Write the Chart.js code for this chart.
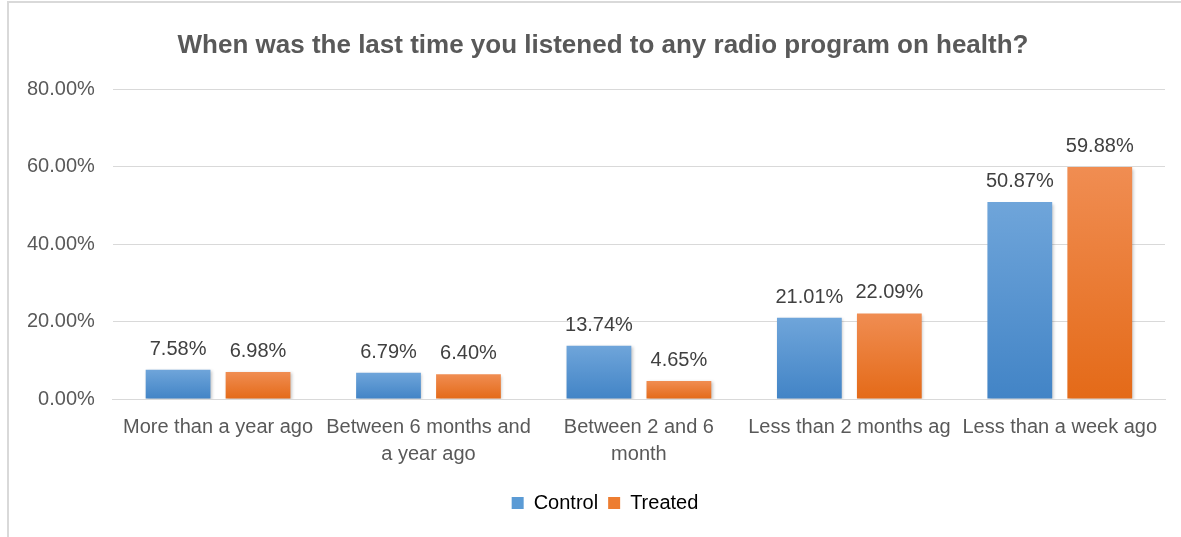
<!DOCTYPE html>
<html>
<head>
<meta charset="utf-8">
<title>Radio program on health</title>
<script src="https://cdn.jsdelivr.net/npm/chart.js@4/dist/chart.umd.min.js"></script>
<style>
  html, body { margin: 0; padding: 0; background: #fff; }
  #wrap {
    position: absolute; left: 7px; top: 1px; width: 1174px; height: 536px;
    border-left: 2px solid #d9d9d9; border-top: 2px solid #d9d9d9;
    box-sizing: border-box;
  }
  canvas { display: block; }
</style>
</head>
<body>
<div id="wrap"><canvas id="radioChart"></canvas></div>
<script>
const categories = [
  "More than a year ago",
  ["Between 6 months and", "a year ago"],
  ["Between 2 and 6", "month"],
  "Less than 2 months ag",
  "Less than a week ago"
];
const controlValues = [7.58, 6.79, 13.74, 21.01, 50.87];
const treatedValues = [6.98, 6.40, 4.65, 22.09, 59.88];
const seriesNames = ["Control", "Treated"];
const yTicks = [0, 20, 40, 60, 80];

const FONT = "'Liberation Sans', Arial, sans-serif";
const textGrey = "#595959";

// light-to-dark vertical fill for each bar, like the office theme
function barFill(top, bottom) {
  return (c) => {
    if (c.type !== "data") return bottom;
    const y = c.chart.scales.y;
    if (!y) return bottom;
    const yTop = y.getPixelForValue(c.parsed.y);
    const yBase = y.getPixelForValue(0);
    if (!isFinite(yTop) || !isFinite(yBase) || yTop === yBase) return bottom;
    const g = c.chart.ctx.createLinearGradient(0, yTop, 0, yBase);
    g.addColorStop(0, top);
    g.addColorStop(1, bottom);
    return g;
  };
}

// centre title and legend on the whole canvas rather than the padded box
const blockShift = {
  id: "blockShift",
  afterLayout(chart) {
    const t = chart.titleBlock;
    if (t) { t.left += 16; t.right += 16; }
    const l = chart.legend;
    if (l) { l.left += 18; l.right += 18; }
  }
};

const barShadow = {
  id: "barShadow",
  beforeDatasetsDraw(chart) {
    const ctx = chart.ctx;
    ctx.save();
    ctx.shadowColor = "rgba(0,0,0,0.22)";
    ctx.shadowBlur = 3;
    ctx.shadowOffsetX = 1.5;
    ctx.shadowOffsetY = 1.5;
  },
  afterDatasetsDraw(chart) {
    chart.ctx.restore();
  }
};

const valueLabels = {
  id: "valueLabels",
  afterDraw(chart) {
    const ctx = chart.ctx;
    ctx.save();
    ctx.font = "20px " + FONT;
    ctx.fillStyle = "#404040";
    ctx.textAlign = "center";
    ctx.textBaseline = "alphabetic";
    chart.data.datasets.forEach((ds, i) => {
      chart.getDatasetMeta(i).data.forEach((bar, j) => {
        ctx.fillText(ds.data[j].toFixed(2) + "%", bar.x, bar.y - 15);
      });
    });
    ctx.restore();
  }
};

new Chart(document.getElementById("radioChart"), {
  type: "bar",
  data: {
    labels: categories,
    datasets: [
      {
        label: seriesNames[0],
        data: controlValues,
        backgroundColor: barFill("#6fa5da", "#4284c6"),
        barPercentage: 0.81,
        categoryPercentage: 0.76
      },
      {
        label: seriesNames[1],
        data: treatedValues,
        backgroundColor: barFill("#f08d52", "#e46a18"),
        barPercentage: 0.81,
        categoryPercentage: 0.76
      }
    ]
  },
  options: {
    responsive: true,
    maintainAspectRatio: false,
    animation: false,
    layout: { padding: { left: 0, right: 16, top: 12, bottom: 14 } },
    plugins: {
      title: {
        display: true,
        text: "When was the last time you listened to any radio program on health?",
        color: textGrey,
        font: { family: FONT, size: 26, weight: "bold" },
        padding: { top: 15, bottom: 28 }
      },
      legend: {
        position: "bottom",
        labels: {
          color: textGrey,
          font: { family: FONT, size: 20 },
          boxWidth: 12,
          boxHeight: 12,
          padding: 10,
          generateLabels: () => [
            { text: seriesNames[0], fillStyle: "#5b9bd5", strokeStyle: "#5b9bd5", lineWidth: 0, datasetIndex: 0 },
            { text: seriesNames[1], fillStyle: "#ed7d31", strokeStyle: "#ed7d31", lineWidth: 0, datasetIndex: 1 }
          ]
        }
      },
      tooltip: { enabled: false }
    },
    scales: {
      x: {
        grid: { display: false, drawTicks: false },
        border: { color: "#d9d9d9", width: 1 },
        ticks: {
          color: textGrey,
          font: { family: FONT, size: 20, lineHeight: 1.35 },
          padding: 15,
          maxRotation: 0,
          autoSkip: false
        }
      },
      y: {
        min: 0,
        max: 80,
        afterBuildTicks: (axis) => { axis.ticks = yTicks.map(v => ({ value: v })); },
        grid: { color: "#d9d9d9", drawTicks: false },
        border: { display: false },
        ticks: {
          color: textGrey,
          font: { family: FONT, size: 20 },
          padding: 18,
          callback: (v) => v.toFixed(2) + "%"
        }
      }
    }
  },
  plugins: [blockShift, barShadow, valueLabels]
});
</script>
</body>
</html>
